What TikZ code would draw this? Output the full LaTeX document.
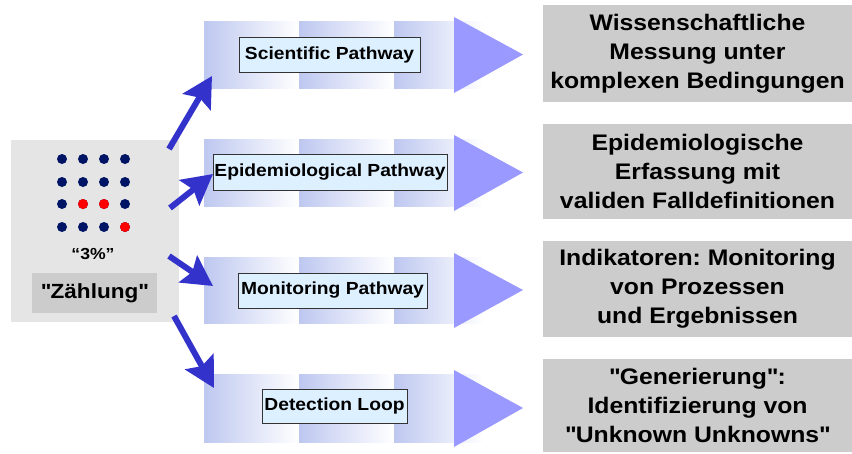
\documentclass[tikz,border=0pt]{standalone}
\usepackage{fontspec}
\setmainfont{Liberation Sans}[FakeStretch=1.1]
\usetikzlibrary{arrows.meta}
\frenchspacing
\definecolor{leftgray}{RGB}{229,229,229}
\definecolor{boxgray}{RGB}{204,204,204}
\definecolor{bandblue}{RGB}{190,200,240}
\definecolor{tri}{RGB}{153,153,255}
\definecolor{labfill}{RGB}{221,240,255}
\definecolor{arrowblue}{RGB}{51,51,204}
\definecolor{navy}{RGB}{0,20,102}
\definecolor{dotred}{RGB}{255,0,0}
\newcommand{\dq}{\textquotedbl}
\tikzset{
  resbox/.style={fill=boxgray, minimum width=309pt, inner sep=0pt, align=center,
    font=\bfseries\fontsize{22.5}{29}\selectfont},
  labbox/.style={fill=labfill, draw=black!80, line width=0.8pt, inner sep=0pt,
    minimum height=35pt, font=\bfseries\fontsize{17.5}{20}\selectfont},
  bandseg/.style={left color=bandblue, right color=white},
  conn/.style={draw=arrowblue, line width=6pt,
    -{Stealth[length=30pt,width=32pt,inset=5pt]}},
}
\begin{document}
\begin{tikzpicture}[x=1pt,y=-1pt]
\useasboundingbox (0,0) rectangle (852,453);

% left source box
\node[fill=leftgray, minimum width=168pt, minimum height=182pt, inner sep=0pt] (src) at (95,231) {};
\foreach \yy in {159,182,204,227}{
  \foreach \xx in {62,83,104,125}{
    \fill[navy] (\xx,\yy) circle (5pt);
  }
}
\fill[dotred] (83,204) circle (5pt);
\fill[dotred] (104,204) circle (5pt);
\fill[dotred] (125,227) circle (5pt);
\node[font=\bfseries\fontsize{16}{18}\selectfont, inner sep=0pt] (pct) at (93,254) {“3\%”};
\node[fill=boxgray, minimum width=125pt, minimum height=40pt, inner sep=0pt,
  font=\bfseries\fontsize{20.5}{24}\selectfont] (zaehl) at (94.5,293) {\dq Zählung\dq};

% bands
\foreach \a/\b in {21/88,139/206,257/323,374/442}{
  \shade[bandseg] (204,\a) rectangle (298,\b);
  \shade[bandseg] (299,\a) rectangle (393,\b);
  \shade[bandseg] (394,\a) rectangle (483,\b);
  \pgfmathsetmacro{\ta}{\a-4}
  \pgfmathsetmacro{\tb}{\b+5}
  \pgfmathsetmacro{\tm}{(\a+\b)/2}
  \fill[tri] (454,\ta) -- (523,\tm) -- (454,\tb) -- cycle;
}

% pathway labels
\node[labbox, minimum width=181pt] (p1) at (329.5,54.5) {Scientific Pathway};
\node[labbox, minimum width=234pt, minimum height=36pt] (p2) at (330,172) {Epidemiological Pathway};
\node[labbox, minimum width=189pt] (p3) at (332.5,290.5) {Monitoring Pathway};
\node[labbox, minimum width=145pt, minimum height=34pt] (p4) at (334.5,406) {Detection Loop};

% result boxes
\node[resbox, minimum height=97pt] (r1) at (697.5,53.5) {Wissenschaftliche\\Messung unter\\komplexen Bedingungen};
\node[resbox, minimum height=95pt] (r2) at (697.5,171.5) {Epidemiologische\\Erfassung mit\\validen Falldefinitionen};
\node[resbox, minimum height=96pt] (r3) at (697.5,289) {Indikatoren: Monitoring\\von Prozessen\\und Ergebnissen};
\node[resbox, minimum height=93pt] (r4) at (697.5,405.5) {\dq Generierung\dq :\\Identifizierung von\\\dq Unknown Unknowns\dq};

% arrows
\coordinate (t1) at (169,149);
\coordinate (h1) at (212,76);
\coordinate (t2) at (170,208);
\coordinate (h2) at (213,174);
\coordinate (t3) at (169,256);
\coordinate (h3) at (213,286);
\coordinate (t4) at (174,316);
\coordinate (h4) at (214,388);
\draw[conn] (t1) -- (h1);
\draw[conn] (t2) -- (h2);
\draw[conn] (t3) -- (h3);
\draw[conn] (t4) -- (h4);
\end{tikzpicture}
\end{document}
